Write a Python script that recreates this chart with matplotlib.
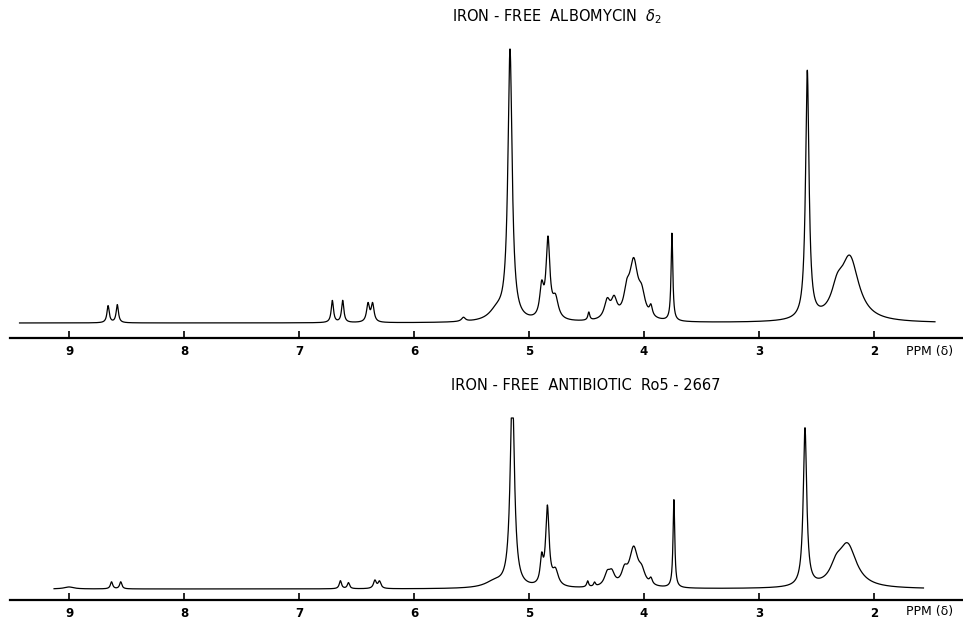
import numpy as np
import matplotlib
matplotlib.use("Agg")
import matplotlib.pyplot as plt

# Peak tables: position (ppm), height above baseline,
# half width at half height (ppm). Heights are in pixels of the original plot.
top_ppm = [8.66, 8.58, 6.71, 6.62, 6.40, 6.36, 5.57, 5.28, 5.165, 4.89, 4.835,
           4.77, 4.48, 4.32, 4.26, 4.15, 4.09, 4.02, 3.94, 3.757, 2.58, 2.32, 2.21]
top_height = [17, 18, 22, 22, 18, 18, 4, 10, 270, 30, 78,
              20, 8, 18, 18, 20, 56, 20, 10, 88, 248, 22, 62]
top_hwhm = [0.012, 0.012, 0.012, 0.012, 0.015, 0.015, 0.02, 0.08, 0.022, 0.02, 0.02,
            0.03, 0.01, 0.03, 0.03, 0.03, 0.045, 0.035, 0.015, 0.009, 0.018, 0.06, 0.095]
top_baseline = 15
top_range = (9.43, 1.47)

bot_ppm = [9.00, 8.63, 8.55, 6.64, 6.57, 6.34, 6.30, 5.30, 5.145, 4.89, 4.84,
           4.77, 4.49, 4.43, 4.32, 4.28, 4.17, 4.09, 4.02, 3.94, 3.74, 2.60, 2.33, 2.23]
bot_height = [2, 7, 7, 8, 6, 8, 7, 6, 200, 25, 78,
              15, 6, 4, 12, 12, 13, 38, 12, 6, 88, 158, 14, 42]
bot_hwhm = [0.05, 0.012, 0.012, 0.012, 0.012, 0.015, 0.015, 0.1, 0.022, 0.015, 0.018,
            0.03, 0.01, 0.01, 0.03, 0.03, 0.03, 0.045, 0.035, 0.015, 0.009, 0.018, 0.06, 0.095]
bot_baseline = 11
bot_range = (9.13, 1.57)
bot_fullscale = 182  # recorder pen limit (flat top of the 5.1 ppm peak)

tick_values = [9, 8, 7, 6, 5, 4, 3, 2]
tick_labels = ["9", "8", "7", "6", "5", "4", "3", "2"]


def spectrum(ppm_range, centers, heights, widths, base):
    x = np.linspace(ppm_range[0], ppm_range[1], 6000)
    y = np.full_like(x, float(base))
    for c, h, w in zip(centers, heights, widths):
        y += h * w**2 / ((x - c)**2 + w**2)
    return x, y


W, H = 963, 618
fig = plt.figure(figsize=(W / 100, H / 100), dpi=100)

xl = (9 + (69 - 10) / 115, 2 - (963 - 874) / 115)


def make_axes(bottom_px, top_px):
    ax = fig.add_axes([10 / W, 1 - bottom_px / H, (W - 10) / W, (bottom_px - top_px) / H])
    ax.set_xlim(*xl)
    ax.set_ylim(0, bottom_px - top_px)
    for s in ["left", "right", "top"]:
        ax.spines[s].set_visible(False)
    ax.spines["bottom"].set_linewidth(1.6)
    ax.set_yticks([])
    ax.set_xticks(tick_values)
    ax.set_xticklabels(tick_labels, fontsize=8.5, fontweight="bold")
    ax.tick_params(axis="x", direction="in", length=5, width=1.2, pad=5)
    ax.patch.set_alpha(0)
    return ax


ax1 = make_axes(338, 38)
x, y = spectrum(top_range, top_ppm, top_height, top_hwhm, top_baseline)
ax1.plot(x, y, color="black", lw=0.9)

ax2 = make_axes(600, 400)
x, y = spectrum(bot_range, bot_ppm, bot_height, bot_hwhm, bot_baseline)
ax2.plot(x, np.minimum(y, bot_fullscale), color="black", lw=0.9)

fig.text(557 / W, 1 - 17 / H, r"IRON - FREE  ALBOMYCIN  $\delta_2$", ha="center", va="center",
         fontsize=10.5)
fig.text(586 / W, 1 - 386 / H, "IRON - FREE  ANTIBIOTIC  Ro5 - 2667", ha="center", va="center",
         fontsize=10.5)
fig.text(930 / W, 1 - 351 / H, "PPM (δ)", ha="center", va="center", fontsize=9)
fig.text(930 / W, 1 - 612 / H, "PPM (δ)", ha="center", va="center", fontsize=9)

fig.savefig("out.png", dpi=100)
